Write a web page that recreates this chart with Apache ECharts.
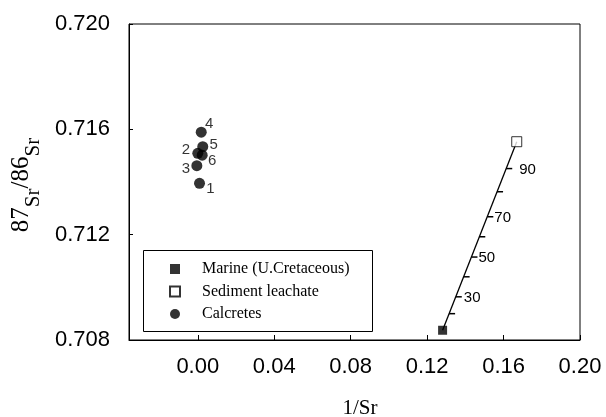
<!DOCTYPE html>
<html>
<head>
<meta charset="utf-8">
<script src="https://cdn.jsdelivr.net/npm/echarts@6/dist/echarts.min.js"></script>
<style>
  html, body { margin: 0; padding: 0; background: #fff; }
  #chart { width: 606px; height: 417px; }
</style>
</head>
<body>
<div id="chart"></div>
<script>
// 数据
const seriesNames = ["Marine (U.Cretaceous)", "Sediment leachate", "Calcretes"];
const marine = [[0.1281, 0.70837]];
const leachate = [[0.1669, 0.71553]];
const calcreteIds = ["1", "2", "3", "4", "5", "6"];
const calcreteX = [0.0009, 0.0000, -0.0005, 0.0018, 0.0026, 0.0023];
const calcreteY = [0.71395, 0.71509, 0.71462, 0.71589, 0.71534, 0.71502];
// mixing line ticks (% leachate)
const mixPct = [20, 30, 40, 50, 60, 70, 80, 90];
const mixX = [0.1315, 0.1350, 0.1391, 0.1432, 0.1473, 0.1515, 0.1566, 0.1614];
const mixY = [0.70900, 0.70964, 0.71040, 0.71115, 0.71192, 0.71268, 0.71363, 0.71451];
const mixLabelled = [30, 50, 70, 90];
const xTicks = [0, 0.04, 0.08, 0.12, 0.16, 0.2];
const yTicks = [0.708, 0.712, 0.716, 0.72];

// 标签偏移 (px)
const calcreteLabelOffset = {
  "1": [11, 6], "2": [-12, -3], "3": [-11, 3],
  "4": [8, -8], "5": [11, -2], "6": [10, 6]
};
const mixLabelDx = { 30: 8, 50: 7, 70: 7, 90: 13 };

const sans = '"Liberation Sans", Arial, Helvetica, sans-serif';
const serif = '"Liberation Serif", "Times New Roman", serif';

const chart = echarts.init(document.getElementById("chart"));

const calcreteData = calcreteIds.map((id, i) => ({
  value: [calcreteX[i], calcreteY[i]],
  name: id,
  label: {
    show: true,
    formatter: id,
    position: "inside",
    offset: calcreteLabelOffset[id],
    color: "#000",
    fontFamily: sans,
    fontSize: 15
  }
}));

const mixData = mixPct.map((p, i) => [mixX[i], mixY[i], p]);

const option = {
  animation: false,
  backgroundColor: "#fff",
  grid: {
    left: 129, top: 24, right: 26, bottom: 77,
    outerBoundsMode: "none",
    containLabel: false,
    show: true, borderColor: "#000", borderWidth: 1
  },
  graphic: [{
    type: "rect",
    left: 143, top: 250,
    shape: { width: 229, height: 81 },
    style: { fill: "#fff", stroke: "#000", lineWidth: 1 },
    z: 50
  }],
  legend: {
    orient: "vertical",
    left: 169, top: 261,
    padding: 0,
    itemWidth: 10, itemHeight: 10,
    itemGap: 6.5,
    z: 60,
    textStyle: { fontFamily: serif, fontSize: 16, color: "#000", padding: [0, 0, 0, 17] },
    data: seriesNames
  },
  xAxis: {
    type: "value",
    min: -0.036, max: 0.2,
    name: "1/Sr",
    nameLocation: "middle",
    nameGap: 58,
    nameTextStyle: { fontFamily: serif, fontSize: 21, color: "#000", padding: [0, 0, 0, 11] },
    axisLine: { show: true, onZero: false, lineStyle: { color: "#000", width: 1 } },
    axisTick: { show: true, inside: true, length: 5, customValues: xTicks, lineStyle: { color: "#000" } },
    axisLabel: {
      customValues: xTicks,
      margin: 16,
      color: "#000", fontFamily: sans, fontSize: 22,
      formatter: v => v.toFixed(2)
    },
    splitLine: { show: false }
  },
  yAxis: {
    type: "value",
    min: 0.708, max: 0.72,
    name: "{a|87}{b|Sr}{a|/86}{b|Sr}",
    nameLocation: "middle",
    nameGap: 63,
    nameRotate: 90,
    nameTextStyle: {
      padding: [0, 6, 0, 0],
      rich: {
        a: { fontFamily: serif, fontSize: 25, color: "#000", lineHeight: 25, verticalAlign: "top" },
        b: { fontFamily: serif, fontSize: 21, color: "#000", lineHeight: 50, verticalAlign: "middle" }
      }
    },
    axisLine: { show: true, onZero: false, lineStyle: { color: "#000", width: 1 } },
    axisTick: { show: true, inside: true, length: 4, customValues: yTicks, lineStyle: { color: "#000" } },
    axisLabel: {
      customValues: yTicks,
      margin: 19,
      color: "#000", fontFamily: sans, fontSize: 22,
      formatter: v => v.toFixed(3)
    },
    splitLine: { show: false }
  },
  series: [
    {
      name: "mixing",
      type: "line",
      data: [marine[0], leachate[0]],
      symbol: "none",
      lineStyle: { color: "#000", width: 1.3 },
      silent: true,
      z: 1
    },
    {
      name: "mixticks",
      type: "custom",
      data: mixData,
      silent: true,
      z: 1,
      renderItem: (params, api) => {
        const p = api.coord([api.value(0), api.value(1)]);
        const pct = api.value(2);
        const children = [{
          type: "line",
          shape: { x1: p[0], y1: p[1], x2: p[0] + 6, y2: p[1] },
          style: { stroke: "#000", lineWidth: 1.5 }
        }];
        if (mixLabelled.includes(pct)) {
          children.push({
            type: "text",
            x: p[0] + mixLabelDx[pct], y: p[1] + 1,
            style: {
              text: String(pct), fill: "#000",
              fontFamily: sans, fontSize: 15,
              align: "left", verticalAlign: "middle"
            }
          });
        }
        return { type: "group", children };
      }
    },
    {
      name: seriesNames[0],
      type: "scatter",
      data: marine,
      symbol: "rect",
      symbolSize: 9,
      itemStyle: { color: "#000" },
      z: 3
    },
    {
      name: seriesNames[1],
      type: "scatter",
      data: leachate,
      symbol: "rect",
      symbolSize: 10,
      itemStyle: { color: "#fff", borderColor: "#000", borderWidth: 1 },
      z: 3
    },
    {
      name: seriesNames[2],
      type: "scatter",
      data: calcreteData,
      symbol: "circle",
      symbolSize: 11,
      itemStyle: { color: "#000" },
      z: 3
    }
  ]
};

chart.setOption(option);
</script>
</body>
</html>
